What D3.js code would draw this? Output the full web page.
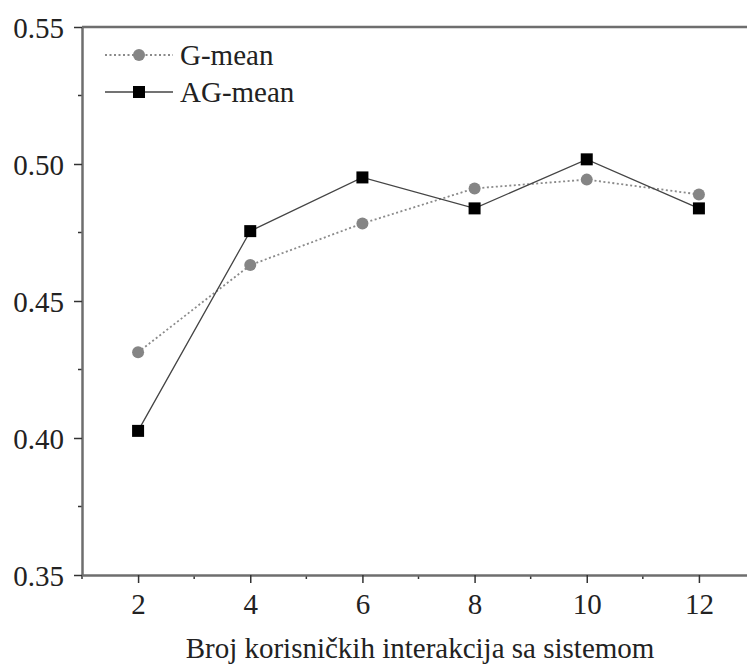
<!DOCTYPE html>
<html>
<head>
<meta charset="utf-8">
<script src="https://cdn.jsdelivr.net/npm/d3@7"></script>
<style>
  html, body { margin: 0; padding: 0; background: #fff; }
  svg { display: block; }
  svg text { font-family: "Liberation Serif", "Times New Roman", Times, "DejaVu Serif", serif !important; fill: #222; }
</style>
</head>
<body>
<svg id="chart" width="747" height="668"></svg>
<script>
// Number of user interactions with the system
const interactions = [2, 4, 6, 8, 10, 12];
const gMean  = [0.4313, 0.4631, 0.4783, 0.4911, 0.4943, 0.4889];
const agMean = [0.4026, 0.4755, 0.4951, 0.4838, 0.5017, 0.4838];
const xTicks = [2, 4, 6, 8, 10, 12];
const yTicks = [0.35, 0.40, 0.45, 0.50, 0.55];
const seriesNames = ["G-mean", "AG-mean"];
const xTitle = "Broj korisničkih interakcija sa sistemom";

const svg = d3.select("#chart");
const plotLeft = 82, plotTop = 27, plotRight = 755, plotBottom = 575;

const x = d3.scaleLinear().domain([1, 13]).range([plotLeft, plotRight]);
const y = d3.scaleLinear().domain([0.35, 0.55]).range([plotBottom, plotTop]);

const axisColor = "#6e6e6e";
const tickColor = "#333";
const fontSize = 29;

// frame lines (top and right edges)
svg.append("line").attr("x1", plotLeft).attr("x2", plotRight).attr("y1", plotTop).attr("y2", plotTop)
  .attr("stroke", axisColor).attr("stroke-width", 2.5);
svg.append("line").attr("x1", plotRight).attr("x2", plotRight).attr("y1", plotTop).attr("y2", plotBottom)
  .attr("stroke", axisColor).attr("stroke-width", 2.5);

// minor ticks
const xMinor = d3.range(1, 13.01, 1).filter(v => !xTicks.includes(v));
const yMinor = d3.range(0.375, 0.55, 0.05);
svg.append("g").selectAll("line").data(xMinor).join("line")
  .attr("x1", d => x(d)).attr("x2", d => x(d)).attr("y1", plotBottom).attr("y2", plotBottom + 4)
  .attr("stroke", tickColor).attr("stroke-width", 1.5);
svg.append("g").selectAll("line").data(yMinor).join("line")
  .attr("x1", plotLeft - 4).attr("x2", plotLeft).attr("y1", d => y(d)).attr("y2", d => y(d))
  .attr("stroke", tickColor).attr("stroke-width", 1.5);

// x axis
const xAxis = svg.append("g").attr("transform", `translate(0,${plotBottom})`)
  .call(d3.axisBottom(x).tickValues(xTicks).tickFormat(d3.format("d")).tickSize(8).tickSizeOuter(0).tickPadding(10));
// y axis
const yAxis = svg.append("g").attr("transform", `translate(${plotLeft},0)`)
  .call(d3.axisLeft(y).tickValues(yTicks).tickFormat(d3.format(".2f")).tickSize(8).tickSizeOuter(0).tickPadding(10));

[xAxis, yAxis].forEach(a => {
  a.attr("font-family", null).attr("font-size", null);
  a.select(".domain").attr("stroke", axisColor).attr("stroke-width", 2.5);
  a.selectAll(".tick line").attr("stroke", tickColor).attr("stroke-width", 1.5);
  a.selectAll(".tick text").attr("font-size", fontSize).attr("fill", "#222");
});
yAxis.selectAll(".tick text").attr("dy", "0.35em");

// axis title
svg.append("text").attr("x", 420).attr("y", 658).attr("text-anchor", "middle")
  .attr("font-size", fontSize).text(xTitle);

const line = d3.line().x((d, i) => x(interactions[i])).y(d => y(d));

// G-mean: dotted gray with circles
svg.append("path").datum(gMean).attr("d", line).attr("fill", "none")
  .attr("stroke", "#8a8a8a").attr("stroke-width", 1.8).attr("stroke-dasharray", "2,2.5");
// AG-mean: solid dark line with squares
svg.append("path").datum(agMean).attr("d", line).attr("fill", "none")
  .attr("stroke", "#444").attr("stroke-width", 1.3);

svg.append("g").selectAll("circle").data(gMean).join("circle")
  .attr("cx", (d, i) => x(interactions[i])).attr("cy", d => y(d)).attr("r", 6)
  .attr("fill", "#858585");
const sq = 12;
svg.append("g").selectAll("rect").data(agMean).join("rect")
  .attr("x", (d, i) => x(interactions[i]) - sq / 2).attr("y", d => y(d) - sq / 2)
  .attr("width", sq).attr("height", sq).attr("fill", "#000");

// legend
const lg = svg.append("g");
const rows = [
  { name: seriesNames[0], y: 55, dash: "2,2.5", color: "#8a8a8a", w: 1.8, marker: "circle" },
  { name: seriesNames[1], y: 92, dash: null, color: "#444", w: 1.3, marker: "square" }
];
rows.forEach(r => {
  lg.append("line").attr("x1", 105).attr("x2", 173).attr("y1", r.y).attr("y2", r.y)
    .attr("stroke", r.color).attr("stroke-width", r.w).attr("stroke-dasharray", r.dash);
  if (r.marker === "circle") {
    lg.append("circle").attr("cx", 139).attr("cy", r.y).attr("r", 6).attr("fill", "#858585");
  } else {
    lg.append("rect").attr("x", 139 - sq / 2).attr("y", r.y - sq / 2).attr("width", sq).attr("height", sq).attr("fill", "#000");
  }
  lg.append("text").attr("x", 180).attr("y", r.y).attr("dy", "0.35em").attr("font-size", fontSize).text(r.name);
});
</script>
</body>
</html>
